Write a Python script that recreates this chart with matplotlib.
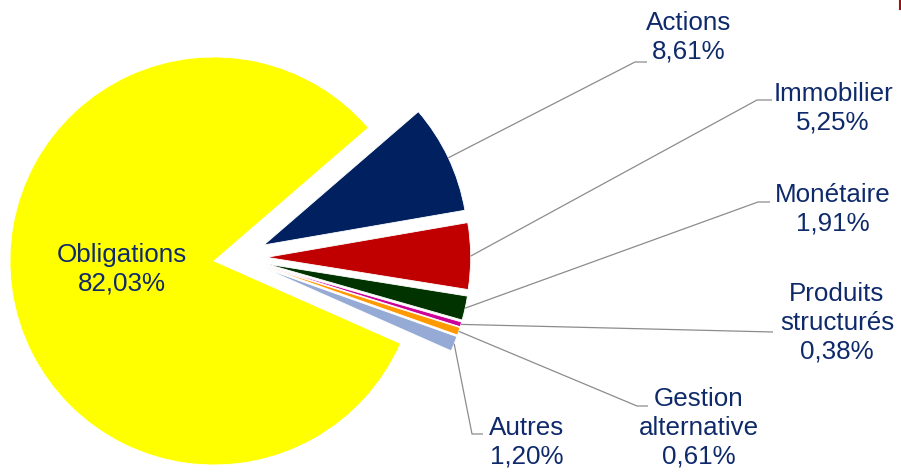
import numpy as np
import matplotlib
matplotlib.use("Agg")
import matplotlib.pyplot as plt

# ---- data ----
categories = ["Actions", "Immobilier", "Monétaire", "Produits\nstructurés",
              "Gestion\nalternative", "Autres", "Obligations"]
values = [8.61, 5.25, 1.91, 0.38, 0.61, 1.20, 82.03]
value_labels = ["8,61%", "5,25%", "1,91%", "0,38%", "0,61%", "1,20%", "82,03%"]
colors = ["#002060", "#C00000", "#003300", "#CC0099", "#FF9900", "#95ABD5", "#FFFF00"]

W, H = 901, 473
plt.rcParams['font.family'] = ['Liberation Sans', 'DejaVu Sans']
txt_color = "#0F2A6B"
line_color = "#8C8C8C"

fig = plt.figure(figsize=(W / 100, H / 100), dpi=100)
ax = fig.add_axes([0, 0, 1, 1])

R = 204
center = (237.4, H - 257.5)
explode = [29.3, 29.3, 29.3, 29.3, 29.3, 29.3, 23.7]

wedges, _ = ax.pie(values, colors=colors, startangle=40.8, counterclock=False,
                   radius=R, center=center, explode=explode,
                   wedgeprops=dict(edgecolor="white", linewidth=0.6))

ax.set_xlim(0, W)
ax.set_ylim(0, H)
ax.set_aspect('equal')
ax.axis('off')

fs = 18.7

def py(y):
    return H - y

# label layout: (elbow point, end point, text position) in pixel coordinates
layout = {
    0: ((635, 62), (647, 62), (689, 37)),
    1: ((757, 100), (772, 100), (833, 108)),
    2: ((758, 202), (770, 202), (833, 209)),
    3: (None, (773, 332), (837, 323)),
    4: ((637, 406), (648, 406), (699, 428)),
    5: ((472, 434), (483, 434), (527, 442)),
}

for i, w in enumerate(wedges[:-1]):
    mid = np.deg2rad((w.theta1 + w.theta2) / 2)
    sx = w.center[0] + w.r * np.cos(mid)
    sy = w.center[1] + w.r * np.sin(mid)
    elbow, end, tpos = layout[i]
    xs = [sx]
    ys = [sy]
    if elbow is not None:
        xs.append(elbow[0]); ys.append(py(elbow[1]))
    xs.append(end[0]); ys.append(py(end[1]))
    ax.plot(xs, ys, color=line_color, lw=0.9, solid_capstyle='butt')
    ax.text(tpos[0], py(tpos[1]), categories[i] + "\n" + value_labels[i],
            ha='center', va='center', fontsize=fs, color=txt_color,
            linespacing=1.25)

ax.text(122, py(269), categories[-1] + "\n" + value_labels[-1],
        ha='center', va='center', fontsize=fs, color=txt_color, linespacing=1.25)

# small red mark at top right edge
ax.plot([899.5, 899.5], [H, H - 9], color="#A01010", lw=1.5)

fig.savefig("out.png", dpi=100)
